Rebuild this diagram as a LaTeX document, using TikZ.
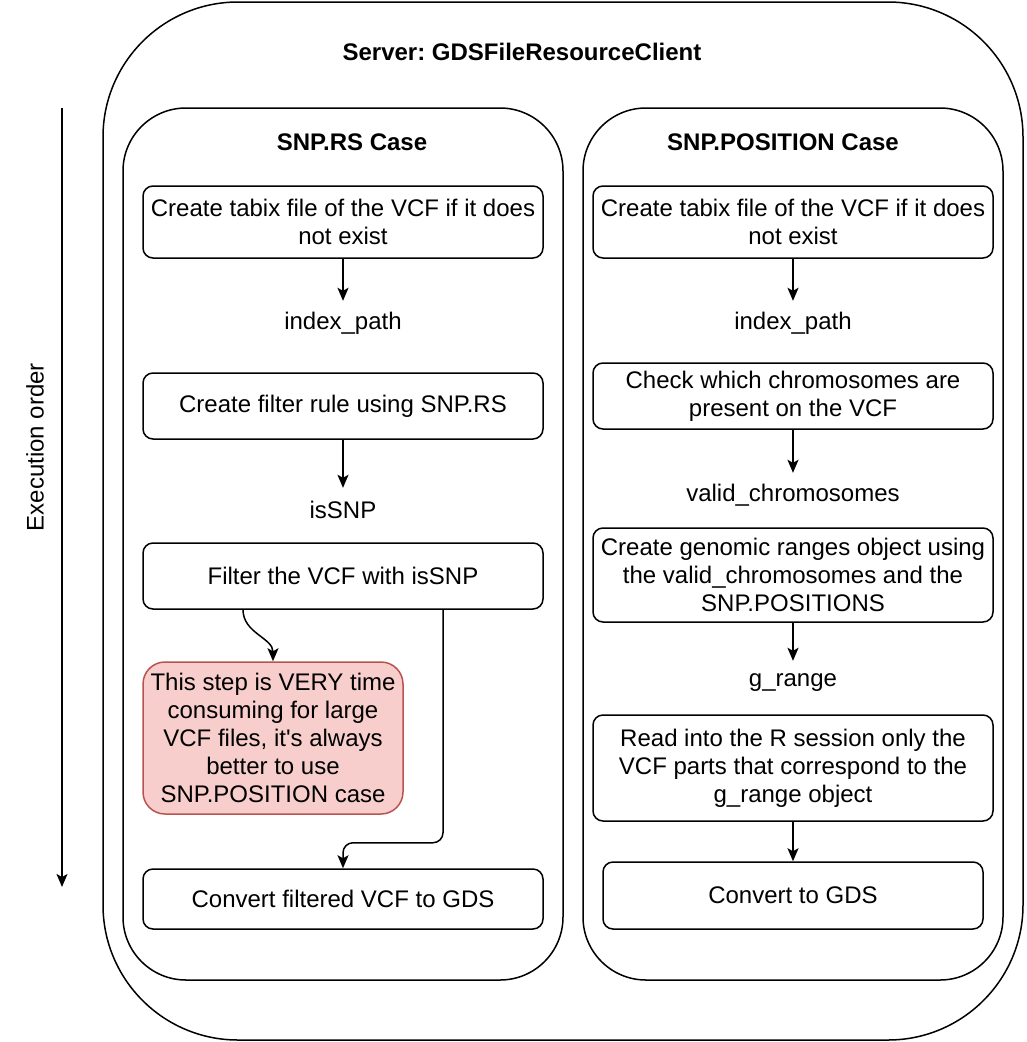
\documentclass[tikz,border=0pt]{standalone}
\usepackage{fontspec}
\setmainfont{Liberation Sans}
\usetikzlibrary{arrows.meta}
\definecolor{redfill}{HTML}{F8CECC}
\definecolor{redline}{HTML}{B85450}
\frenchspacing
\begin{document}
\begin{tikzpicture}[x=1pt,y=-1pt,
  every node/.style={font=\fontsize{24}{28}\selectfont, inner sep=0pt, align=center},
  stepbox/.style={draw, line width=1.5pt, rounded corners=10pt, fill=white},
  container/.style={draw, line width=1.5pt},
  lbl/.style={minimum height=44pt},
  arr/.style={line width=1.5pt, -{Stealth[length=13pt,width=11pt,inset=3pt]}},
  ttl/.style={font=\fontsize{24}{28}\selectfont\bfseries}
]
\useasboundingbox (0,0) rectangle (1026,1042);

% containers
\node[container, rounded corners=135pt, minimum width=920pt, minimum height=1038pt] (outer) at (563,521) {};
\node[ttl] (outerT) at (522,52) {Server: GDSFileResourceClient};
\node[container, rounded corners=63pt, minimum width=440pt, minimum height=872pt] (left) at (343,544) {};
\node[ttl] (leftT) at (352,142) {SNP.RS Case};
\node[container, rounded corners=63pt, minimum width=420pt, minimum height=872pt] (right) at (793,544) {};
\node[ttl] (rightT) at (783,142) {SNP.POSITION Case};

% left column
\node[stepbox, minimum width=400pt, minimum height=72pt] (L1) at (343,222) {Create tabix file of the VCF if it does\\not exist};
\node[lbl] (Lidx) at (343,323) {index\_path};
\node[stepbox, minimum width=400pt, minimum height=66pt] (L2) at (343,406) {Create filter rule using SNP.RS};
\node[lbl] (Lis) at (343,510) {isSNP};
\node[stepbox, minimum width=400pt, minimum height=66pt] (L3) at (343,576) {Filter the VCF with isSNP};
\node[draw=redline, fill=redfill, line width=1.5pt, rounded corners=22pt, minimum width=260pt, minimum height=152pt] (warn) at (273,738) {This step is VERY time\\consuming for large\\VCF files, it\textquotesingle s always\\better to use\\SNP.POSITION case};
\node[stepbox, minimum width=400pt, minimum height=60pt] (L4) at (343,899) {Convert filtered VCF to GDS};

% right column
\node[stepbox, minimum width=400pt, minimum height=72pt] (R1) at (793,222) {Create tabix file of the VCF if it does\\not exist};
\node[lbl] (Ridx) at (793,323) {index\_path};
\node[stepbox, minimum width=400pt, minimum height=66pt] (R2) at (793,396) {Check which chromosomes are\\present on the VCF};
\node[lbl] (Rvalid) at (793,495) {valid\_chromosomes};
\node[stepbox, minimum width=400pt, minimum height=94pt] (R3) at (793,575) {Create genomic ranges object using\\the valid\_chromosomes and the\\SNP.POSITIONS};
\node[lbl] (Rg) at (793,683) {g\_range};
\node[stepbox, minimum width=400pt, minimum height=106pt] (R4) at (793,768) {Read into the R session only the\\VCF parts that correspond to the\\g\_range object};
\node[stepbox, minimum width=380pt, minimum height=67pt] (R5) at (793,895.5) {Convert to GDS};

% execution order
\coordinate (e1) at (62,108);
\coordinate (e2) at (62,887);
\draw[arr] (e1) -- (e2);
\node[rotate=90] (execT) at (35,447) {Execution order};

% connectors left
\draw[arr] (L1.south) -- (Lidx.north);
\draw[arr] (L2.south) -- (Lis.north);
\draw[arr] ([xshift=-100pt]L3.south) to[out=-90,in=90] (warn.north);
\draw[arr, rounded corners=10pt] ([xshift=100pt]L3.south) -- ++(0,233) -| (L4.north);

% connectors right
\draw[arr] (R1.south) -- (Ridx.north);
\draw[arr] (R2.south) -- (Rvalid.north);
\draw[arr] (R3.south) -- (Rg.north);
\draw[arr] (R4.south) -- (R5.north);
\end{tikzpicture}
\end{document}
